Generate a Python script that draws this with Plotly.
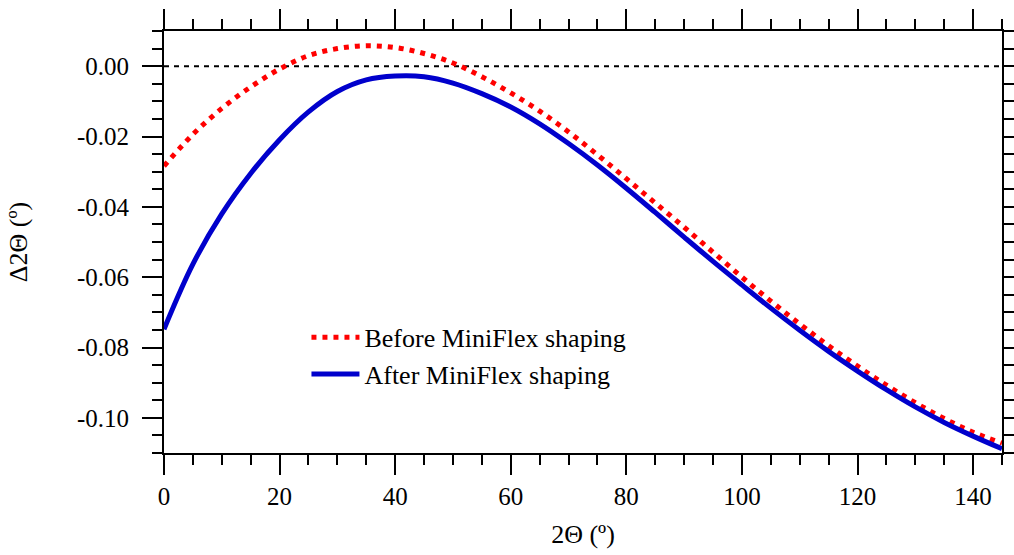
import plotly.graph_objects as go

# ---- data ----
two_theta = [0, 5, 10, 15, 20, 25, 30, 35, 40, 45, 50, 55, 60, 65, 70, 75,
             80, 85, 90, 95, 100, 105, 110, 115, 120, 125, 130, 135, 140, 145]

before_shaping = [-0.0284, -0.0194, -0.0120, -0.0059, -0.0008, 0.0030, 0.0050,
                  0.0058, 0.0053, 0.0036, 0.0009, -0.0030, -0.0076, -0.0128,
                  -0.0187, -0.0252, -0.0320, -0.0389, -0.0458, -0.0529, -0.0600,
                  -0.0668, -0.0733, -0.0795, -0.0853, -0.0907, -0.0957, -0.1002,
                  -0.1041, -0.1072]

after_shaping = [-0.0748, -0.0563, -0.0420, -0.0305, -0.0209, -0.0130, -0.0072,
                 -0.0039, -0.0028, -0.0030, -0.0048, -0.0078, -0.0116, -0.0164,
                 -0.0220, -0.0281, -0.0347, -0.0416, -0.0486, -0.0555, -0.0622,
                 -0.0688, -0.0751, -0.0811, -0.0867, -0.0920, -0.0969, -0.1013,
                 -0.1052, -0.1088]

series_names = ["Before MiniFlex shaping", "After MiniFlex shaping"]

x_tickvals = [0, 20, 40, 60, 80, 100, 120, 140]
x_ticktext = ["0", "20", "40", "60", "80", "100", "120", "140"]
y_tickvals = [0.0, -0.02, -0.04, -0.06, -0.08, -0.10]
y_ticktext = ["0.00", "-0.02", "-0.04", "-0.06", "-0.08", "-0.10"]

FONT = "Liberation Serif, Times New Roman, serif"

fig = go.Figure()
fig.add_trace(go.Scatter(
    x=two_theta, y=before_shaping, mode="lines", name=series_names[0],
    line=dict(color="#FF0000", width=5, dash="5px,6px", shape="spline"),
))
fig.add_trace(go.Scatter(
    x=two_theta, y=after_shaping, mode="lines", name=series_names[1],
    line=dict(color="#0000CC", width=5, shape="spline"),
))

fig.add_shape(type="line", xref="paper", yref="y", x0=0, x1=1, y0=0, y1=0,
              line=dict(color="black", width=2, dash="5px,5px"), layer="below")

axis_common = dict(
    showline=True, linecolor="black", linewidth=2, mirror="ticks",
    ticks="outside", ticklen=20, tickwidth=2, tickcolor="black",
    showgrid=False, zeroline=False,
    tickfont=dict(family=FONT, size=25, color="black"),
    title_font=dict(family=FONT, size=26, color="black"),
)

fig.update_xaxes(
    range=[0, 145], tickmode="array", tickvals=x_tickvals, ticktext=x_ticktext,
    minor=dict(tickmode="linear", tick0=0, dtick=5, ticks="outside", ticklen=10,
               tickwidth=2, tickcolor="black", showgrid=False),
    title=dict(text="2Θ (º)", standoff=16),
    **axis_common,
)
fig.update_yaxes(
    range=[-0.11, 0.01], tickmode="array", tickvals=y_tickvals, ticktext=y_ticktext,
    minor=dict(tickmode="linear", tick0=0, dtick=0.005, ticks="outside", ticklen=10,
               tickwidth=2, tickcolor="black", showgrid=False),
    ticklabelstandoff=8,
    title=dict(text="Δ2Θ (º)", standoff=42),
    **axis_common,
)

fig.update_layout(
    width=1014, height=555,
    margin=dict(l=164, r=12, t=31, b=102, autoexpand=False),
    paper_bgcolor="white", plot_bgcolor="white",
    font=dict(family=FONT, size=24, color="black"),
    showlegend=True,
    legend=dict(x=0.170, y=0.33, xanchor="left", yanchor="top",
                bgcolor="rgba(0,0,0,0)", borderwidth=0,
                font=dict(family=FONT, size=26, color="black"),
                tracegroupgap=0, itemwidth=48),
)

fig.write_html("out.html")
